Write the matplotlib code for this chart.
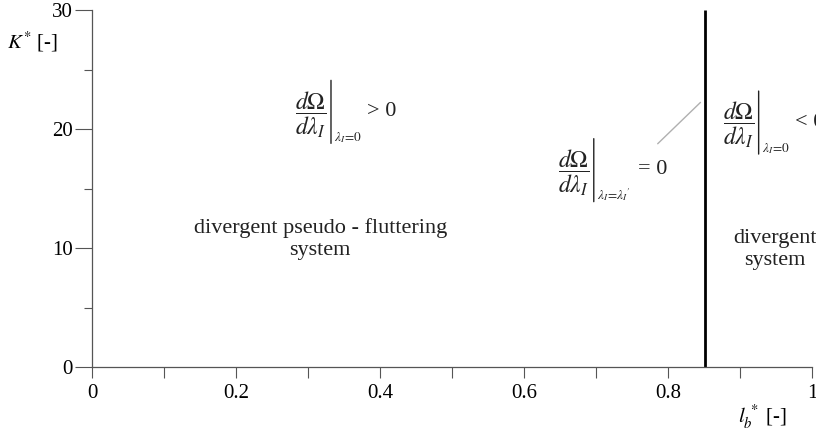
import numpy as np
import matplotlib
matplotlib.use("Agg")
import matplotlib.pyplot as plt
from matplotlib.ticker import MultipleLocator
from matplotlib.transforms import offset_copy

# stability boundary and axis ranges
boundary_lb = 0.851
x_range = [0, 1]
y_range = [0, 30]
x_ticks = [0, 0.2, 0.4, 0.6, 0.8, 1]
x_tick_labels = ["0", "0.2", "0.4", "0.6", "0.8", "1"]
y_ticks = [0, 10, 20, 30]

# region labels (x, y, text)
region_labels = [
    (0.317, 10.75, "divergent pseudo - fluttering\nsystem"),
    (0.949, 9.9, "divergent\nsystem"),
]
# derivative conditions: anchor (x, y), evaluation point, relation
deriv_x = [0.282, 0.647, 0.876]
deriv_y = [21.4, 16.5, 20.5]
deriv_at = [r"$\lambda_I\!=\!0$", r"$\lambda_I\!=\!\lambda_I{}'$", r"$\lambda_I\!=\!0$"]
deriv_rel = ["> 0", "= 0", "< 0"]
rel_gap = [72, 80, 72]
pointer_start = (0.783, 18.6)
pointer_end = (0.848, 22.4)

plt.rcParams["font.family"] = ["Liberation Serif", "DejaVu Serif"]
plt.rcParams["mathtext.fontset"] = "stix"
ink = "#222222"

fig = plt.figure(figsize=(8.16, 4.30), dpi=100)
ax = fig.add_axes([0.1127, 0.1465, 0.8823, 0.8302])

ax.plot([boundary_lb, boundary_lb], y_range, color="black", lw=2.0, solid_capstyle="butt")

ax.annotate("", xy=pointer_end, xytext=pointer_start,
            arrowprops=dict(arrowstyle="-", color="#b0b0b0", lw=1.0))

for x, y, s in region_labels:
    ax.text(x, y, s, ha="center", va="center", fontsize=16, color=ink,
            linespacing=1.2)


def shifted(dx, dy):
    return offset_copy(ax.transData, fig=fig, x=dx, y=dy, units="dots")


# fraction, evaluation bar, subscript and relation, laid out in pixels
for x, y, at, rel, gap in zip(deriv_x, deriv_y, deriv_at, deriv_rel, rel_gap):
    ax.text(x, y, r"$\dfrac{d\Omega}{d\lambda_I}$", ha="left", va="center",
            fontsize=17, color=ink, transform=shifted(0, -2))
    ax.annotate("", xy=(x, y), xycoords=shifted(36, 32),
                xytext=(x, y), textcoords=shifted(36, -31),
                arrowprops=dict(arrowstyle="-", color=ink, lw=1.0,
                                shrinkA=0, shrinkB=0))
    ax.text(x, y, at, ha="left", va="baseline", fontsize=9.5, color=ink,
            transform=shifted(39, -29))
    ax.text(x, y, rel, ha="left", va="center", fontsize=16, color=ink,
            transform=shifted(gap, 1))

ax.set_xlim(x_range)
ax.set_ylim(y_range)
ax.set_xticks(x_ticks)
ax.set_xticklabels(x_tick_labels)
ax.set_yticks(y_ticks)
ax.xaxis.set_minor_locator(MultipleLocator(0.1))
ax.yaxis.set_minor_locator(MultipleLocator(5))

for side in ["top", "right"]:
    ax.spines[side].set_visible(False)
for side in ["left", "bottom"]:
    ax.spines[side].set_color("#555555")
    ax.spines[side].set_linewidth(0.9)

ax.tick_params(axis="y", which="major", length=12, width=0.8, color="#555555",
               labelsize=15, pad=2)
ax.tick_params(axis="y", which="minor", length=6, width=0.8, color="#555555")
ax.tick_params(axis="x", which="both", length=8, width=0.8, color="#555555",
               labelsize=15, pad=4)

fig.text(0.009, 0.902, r"$K^{*}$ [-]", fontsize=15, ha="left", va="center")
fig.text(0.905, 0.03, r"$l_b^{\,*}$ [-]", fontsize=15, ha="left", va="center")

fig.savefig("out.png", dpi=100)
